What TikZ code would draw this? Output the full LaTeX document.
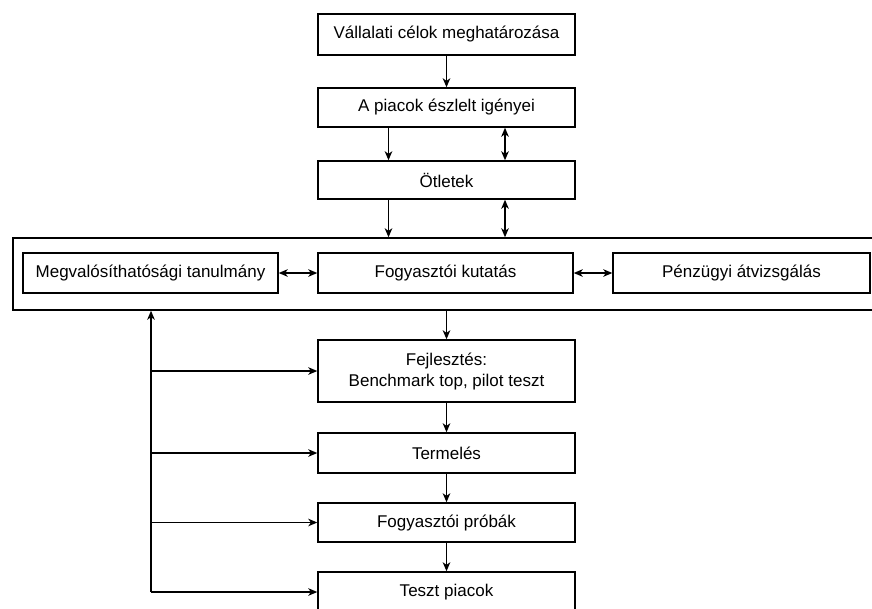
\documentclass[tikz,border=0pt]{standalone}
\usepackage{fontspec}
\setmainfont{Liberation Sans}
\usetikzlibrary{arrows.meta}
\begin{document}
\begin{tikzpicture}[x=1pt,y=-1pt,
  stepbox/.style={draw,line width=1.4pt,inner sep=0pt,align=center,
    font=\fontsize{17}{21}\selectfont,minimum width=257pt},
  arr/.style={line width=1.4pt,-{Stealth[length=9pt,width=7.5pt,inset=2.5pt]}},
  darr/.style={line width=1.4pt,{Stealth[length=9pt,width=7.5pt,inset=2.5pt]}-{Stealth[length=9pt,width=7.5pt,inset=2.5pt]}}]
\useasboundingbox (0,0) rectangle (872,608);
\clip (0,0) rectangle (872,608);

% planning chain
\node[stepbox,minimum height=41pt] (b1) at (446.5,34.5) {Vállalati célok meghatározása};
\node[stepbox,minimum height=39pt] (b2) at (446.5,107.5) {A piacok észlelt igényei};
\node[stepbox,minimum height=38pt] (b3) at (446.5,180) {Ötletek};

% evaluation frame with its three studies
\node[draw,line width=1.4pt,minimum width=880pt,minimum height=72pt,inner sep=0pt] (outer) at (453,274) {};
\node[stepbox,minimum width=255pt,minimum height=40pt] (meg) at (150.5,273) {Megvalósíthatósági tanulmány};
\node[stepbox,minimum width=255pt,minimum height=40pt] (fog) at (445.5,273) {Fogyasztói kutatás};
\node[stepbox,minimum width=257pt,minimum height=40pt] (pen) at (741.5,273) {Pénzügyi átvizsgálás};

% realisation chain
\node[stepbox,minimum height=62pt] (fej) at (446.5,371) {Fejlesztés:\\Benchmark top, pilot teszt};
\node[stepbox,minimum height=40pt] (ter) at (446.5,453) {Termelés};
\node[stepbox,minimum height=39pt] (pro) at (446.5,522.5) {Fogyasztói próbák};
\node[stepbox,minimum height=40pt] (tes) at (446.5,592) {Teszt piacok};

% guide columns for the side-by-side connectors
\coordinate (xl) at (388.5,0);
\coordinate (xr) at (505,0);
\coordinate (fb) at (151,0);

\draw[arr] (b1) -- (b2);
\draw[arr] (b2.south -| xl) -- (b3.north -| xl);
\draw[darr] (b2.south -| xr) -- (b3.north -| xr);
\draw[arr] (b3.south -| xl) -- (outer.north -| xl);
\draw[darr] (b3.south -| xr) -- (outer.north -| xr);

\draw[darr] (meg) -- (fog);
\draw[darr] (fog) -- (pen);

\draw[arr] (outer.south -| fej.north) -- (fej);
\draw[arr] (fej) -- (ter);
\draw[arr] (ter) -- (pro);
\draw[arr] (pro) -- (tes);

% feedback from the later stages to the evaluation frame
\draw[arr] (tes.west -| fb) -- (outer.south -| fb);
\draw[arr] (fej.west -| fb) -- (fej.west);
\draw[arr] (ter.west -| fb) -- (ter.west);
\draw[arr] (pro.west -| fb) -- (pro.west);
\draw[arr] (tes.west -| fb) -- (tes.west);
\end{tikzpicture}
\end{document}
